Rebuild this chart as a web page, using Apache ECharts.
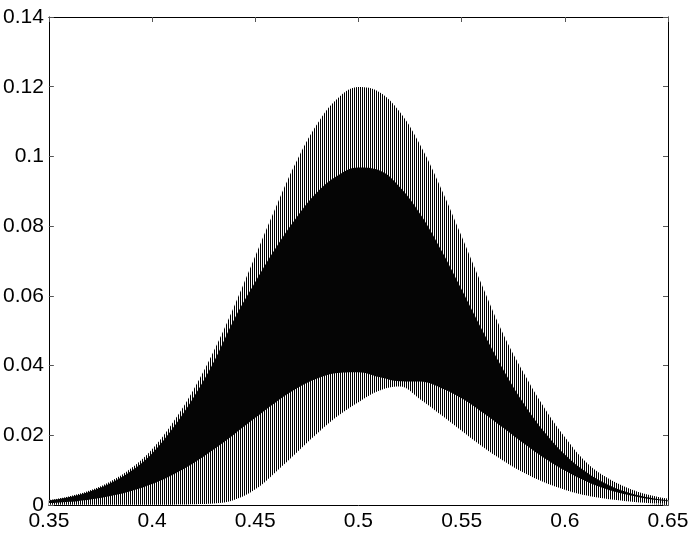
<!DOCTYPE html>
<html>
<head>
<meta charset="utf-8">
<script src="https://cdn.jsdelivr.net/npm/echarts@6/dist/echarts.min.js"></script>
<style>html,body{margin:0;padding:0;background:#fff;}#c{width:696px;height:536px;}</style>
</head>
<body>
<div id="c"></div>
<script>
// x positions of the envelope samples
const xs = [0.35,0.36,0.37,0.38,0.39,0.40,0.41,0.42,0.43,0.44,0.45,0.46,0.47,0.48,0.49,0.50,
            0.51,0.52,0.53,0.54,0.55,0.56,0.57,0.58,0.59,0.60,0.61,0.62,0.63,0.64,0.65];
// outer upper envelope of the oscillation
const upperOuter = [0.0014,0.0025,0.0042,0.0068,0.0106,0.0160,0.0236,0.0330,0.0443,0.0573,0.0714,0.0855,0.0986,0.1093,0.1167,0.1199,
                    0.1185,0.1128,0.1032,0.0909,0.0771,0.0629,0.0493,0.0380,0.0280,0.0195,0.0125,0.0080,0.0050,0.0030,0.0018];
// inner upper envelope (top of the dense region)
const upperInner = [0.0013,0.0023,0.0039,0.0063,0.0098,0.0148,0.0220,0.0308,0.0412,0.0535,0.0640,0.0738,0.0825,0.0897,0.0945,0.0968,
                    0.0960,0.0912,0.0834,0.0732,0.0618,0.0501,0.0390,0.0292,0.0210,0.0145,0.0096,0.0061,0.0037,0.0022,0.0013];
// lower envelope, left hump
const lowerA = [0.0005,0.0009,0.0016,0.0026,0.0040,0.0060,0.0087,0.0120,0.0160,0.0204,0.0250,0.0295,0.0334,0.0363,0.0379,0.0381,
                0.0367,0.0340,0.0303,0.0259,0.0213,0.0168,0.0128,0.0093,0.0065,0.0044,0.0028,0.0018,0.0011,0.0006,0.0003];
// lower envelope, right hump
const lowerB = [0.0001,0.0001,0.0001,0.0001,0.0001,0.0001,0.0001,0.0002,0.0004,0.0015,0.0045,0.0095,0.0150,0.0205,0.0255,0.0295,
                0.0328,0.0355,0.0354,0.0336,0.0306,0.0266,0.0222,0.0177,0.0135,0.0099,0.0069,0.0046,0.0030,0.0018,0.0011];
const xTicks = [0.35,0.4,0.45,0.5,0.55,0.6,0.65];
const yTicks = [0,0.02,0.04,0.06,0.08,0.1,0.12,0.14];

const lowerHigh = xs.map((x,i)=>Math.max(lowerA[i],lowerB[i]));
const lowerLow = xs.map((x,i)=>Math.min(lowerA[i],lowerB[i]));
const pairs = arr => xs.map((x,i)=>[x,arr[i]]);

const cv = document.createElement('canvas');
cv.width = 2; cv.height = 1;
const g = cv.getContext('2d');
g.fillStyle = '#fff'; g.fillRect(0,0,2,1);
g.fillStyle = '#000'; g.fillRect(0,0,1,1);
const stripes = {image: cv, repeat: 'repeat'};

const font = {fontFamily: 'Liberation Sans, Helvetica, Arial, sans-serif', fontSize: 21, color: '#000'};
function band(data, fill, z) {
  return {type:'line', data: data, smooth: 0.4, showSymbol: false, symbol:'none',
          lineStyle:{width:0, opacity:0}, areaStyle:{color: fill, opacity:1},
          z: z, silent: true, xAxisIndex:0, yAxisIndex:0};
}
const axisBase = {
  axisLine:{show:true, onZero:false, lineStyle:{color:'#000', width:1}},
  axisTick:{show:true, inside:true, length:5, lineStyle:{color:'#555'}},
  splitLine:{show:false}
};
const chart = echarts.init(document.getElementById('c'));
chart.setOption({
  animation:false,
  backgroundColor:'#fff',
  grid:{left:48, right:28, top:17, bottom:31, containLabel:false},
  xAxis:[
    Object.assign({type:'value', position:'bottom', min:0.35, max:0.65, interval:0.05,
      axisLabel:Object.assign({margin:6, formatter: v => String(+v.toFixed(2))}, font)}, axisBase),
    Object.assign({type:'value', position:'top', min:0.35, max:0.65, interval:0.05,
      axisLabel:{show:false}}, axisBase)
  ],
  yAxis:[
    Object.assign({type:'value', position:'left', min:0, max:0.14, interval:0.02,
      axisLabel:Object.assign({margin:5, formatter: v => String(+v.toFixed(2))}, font)}, axisBase),
    Object.assign({type:'value', position:'right', min:0, max:0.14, interval:0.02,
      axisLabel:{show:false}}, axisBase)
  ],
  series:[
    band(pairs(upperOuter), stripes, 1),
    band(pairs(upperInner), '#050505', 2),
    band(pairs(lowerHigh), stripes, 3),
    band(pairs(lowerLow), '#ffffff', 4)
  ]
});
</script>
</body>
</html>
